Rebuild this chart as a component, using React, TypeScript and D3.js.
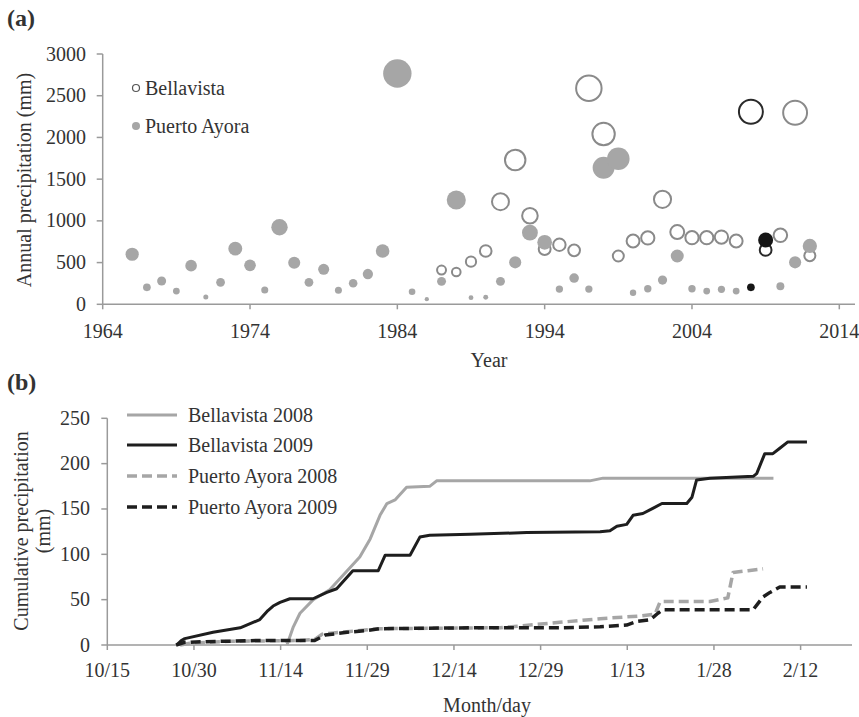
import React from "react";
import * as d3 from "d3";

// ---------- Panel (a) data ----------
const paYears = [1966,1967,1968,1969,1970,1971,1972,1973,1974,1975,1976,1977,1978,1979,1980,1981,1982,1983,1984,1985,1986,1987,1988,1989,1990,1991,1992,1993,1994,1995,1996,1997,1998,1999,2000,2001,2002,2003,2004,2005,2006,2007,2008,2009,2010,2011,2012];
const paValues = [600,204,279,159,463,87,263,667,467,171,923,499,263,419,168,252,363,639,2766,151,62,275,1250,80,84,275,503,858,743,183,315,183,1637,1745,139,187,291,579,187,159,179,159,203,771,216,503,699];
const bvYears = [1987,1988,1989,1990,1991,1992,1993,1994,1995,1996,1997,1998,1999,2000,2001,2002,2003,2004,2005,2006,2007,2008,2009,2010,2011,2012];
const bvValues = [411,387,511,639,1230,1729,1062,663,714,647,2589,2041,579,759,795,1258,866,798,798,806,759,2308,651,827,2296,583];
const highlightYears = [2008, 2009];
const yearTicks = [1964, 1974, 1984, 1994, 2004, 2014];
const annualTicks = [0, 500, 1000, 1500, 2000, 2500, 3000];

// ---------- Panel (b) data (days since 10/15) ----------
const bv2008Days = [31.1,32.2,33.35,35.65,38.5,41.4,43.7,45.5,47.2,48.4,49.8,51.8,55.8,57.0,83.5,85.8,115.3];
const bv2008Vals = [0,20,35,50,61,81,97,117,143,156,160,174,175,181,181,184,184];
const bv2009Days = [12,12.8,13.4,18.3,23,26.4,27.8,28.7,29.9,31.6,35.6,38,39.7,41.1,42.5,46.9,48.1,52.4,54.1,55.8,62.8,72.6,85.3,87,88.2,89.9,91,92.7,94.5,96,100.3,101.2,102,104.3,111.8,112.4,113.8,115.2,116.4,117.8,121.1];
const bv2009Vals = [0,5,7,14,19,28,38,43,47,51,51,58,62,72,82,82,99,99,119,121,122,124,125,126,131,133,143,145,151,156,156,163,182,184,186,189,211,211,217,224,224];
const pa2008Days = [12.6,14.3,21.3,33.3,35.9,37.2,42.0,47.2,68.0,73.2,78.3,85.3,92.2,94.8,95.7,104.3,106.6,107.4,108.3,110.9,113.5];
const pa2008Vals = [0,2,4,5,6,12,15,18,19,22,25,29,32,34,48,48,51,52,80,82,84];
const pa2009Days = [11.9,13.4,19.5,26.4,35.9,37.7,41.5,45.0,47.2,62.8,70.2,78.3,85.3,89.9,91.7,94.0,95.3,96.2,111.8,113.5,114.7,116.4,121.1];
const pa2009Vals = [0,3,4,5,5,11,14,16,18,19,19,19,20,22,26,28,35,39,39,53,58,64,64];
const dayTicks = [0, 15, 30, 45, 60, 75, 90, 105, 120];
const dayLabels = ["10/15", "10/30", "11/14", "11/29", "12/14", "12/29", "1/13", "1/28", "2/12"];
const cumTicks = [0, 50, 100, 150, 200, 250];

const FONT = "'Liberation Serif', 'Times New Roman', serif";
const AXIS = "#9a9a9a";
const TEXT = "#333";
const GRAY = "#a6a6a6";

export default function App() {
  // scales (a)
  const xA = d3.scaleLinear().domain([1964, 2014]).range([102.7, 839.3]);
  const yA = d3.scaleLinear().domain([0, 3000]).range([304.3, 54]);
  const rA = d3.scaleSqrt().domain([0, 2766]).range([0, 14.2]);
  // scales (b)
  const xB = d3.scaleLinear().domain([0, 120]).range([107.3, 800.6]);
  const yB = d3.scaleLinear().domain([0, 250]).range([645, 418.3]);

  const mkLine = (days: number[], vals: number[]) =>
    d3.line<number>().x((_, i) => xB(days[i])).y((v) => yB(v))(vals) || "";

  const bv = bvYears.map((y, i) => ({ y, v: bvValues[i] }));
  const pa = paYears.map((y, i) => ({ y, v: paValues[i] }));

  const series = [
    { name: "Bellavista 2008", d: mkLine(bv2008Days, bv2008Vals), color: GRAY, dash: undefined, w: 3 },
    { name: "Bellavista 2009", d: mkLine(bv2009Days, bv2009Vals), color: "#1e1e1e", dash: undefined, w: 3 },
    { name: "Puerto Ayora 2008", d: mkLine(pa2008Days, pa2008Vals), color: GRAY, dash: "10,5", w: 3.5 },
    { name: "Puerto Ayora 2009", d: mkLine(pa2009Days, pa2009Vals), color: "#1e1e1e", dash: "10,5", w: 3.5 },
  ];

  return (
    <svg width={859} height={717} style={{ position: "absolute", left: 0, top: 0, background: "#fff" }} fontFamily={FONT}>
      {/* ===== Panel (a) ===== */}
      <text x={7} y={26} fontSize={24} fontWeight="bold" fill={TEXT}>(a)</text>
      {/* axes */}
      <line x1={xA(1964)} x2={xA(1964)} y1={yA(0)} y2={yA(3000)} stroke={AXIS} strokeWidth={1.5} />
      <line x1={xA(1964)} x2={855} y1={yA(0)} y2={yA(0)} stroke={AXIS} strokeWidth={1.5} />
      {annualTicks.map((t) => (
        <g key={"ya" + t}>
          <line x1={xA(1964) - 6} x2={xA(1964)} y1={yA(t)} y2={yA(t)} stroke={AXIS} strokeWidth={1.5} />
          <text x={86} y={yA(t) + 6.5} fontSize={20} textAnchor="end" fill={TEXT}>{t}</text>
        </g>
      ))}
      {yearTicks.map((t) => (
        <g key={"xa" + t}>
          <line x1={xA(t)} x2={xA(t)} y1={yA(0)} y2={yA(0) + 5} stroke={AXIS} strokeWidth={1.5} />
          <text x={xA(t)} y={338} fontSize={20} textAnchor="middle" fill={TEXT}>{t}</text>
        </g>
      ))}
      <text transform={`translate(31,180) rotate(-90)`} fontSize={20} textAnchor="middle" fill={TEXT}>Annual precipitation (mm)</text>
      <text x={489} y={367} fontSize={20} textAnchor="middle" fill={TEXT}>Year</text>

      {/* Bellavista bubbles */}
      {bv.map((p) => {
        const hl = highlightYears.includes(p.y);
        return (
          <circle key={"bv" + p.y} cx={xA(p.y)} cy={yA(p.v)} r={Math.max(rA(p.v) - 1, 1)}
            fill="#fff" stroke={hl ? "#2a2a2a" : "#8a8a8a"} strokeWidth={2} />
        );
      })}
      {/* Puerto Ayora bubbles */}
      {pa.map((p) => {
        const hl = highlightYears.includes(p.y);
        return (
          <circle key={"pa" + p.y} cx={xA(p.y)} cy={yA(p.v)} r={rA(p.v)} fill={hl ? "#161616" : GRAY} />
        );
      })}

      {/* legend (a) */}
      <circle cx={136} cy={88} r={3.5} fill="#fff" stroke="#555" strokeWidth={1.2} />
      <text x={145} y={95} fontSize={20} fill={TEXT}>Bellavista</text>
      <circle cx={136} cy={126} r={4} fill={GRAY} />
      <text x={145} y={133} fontSize={20} fill={TEXT}>Puerto Ayora</text>

      {/* ===== Panel (b) ===== */}
      <text x={7} y={390} fontSize={24} fontWeight="bold" fill={TEXT}>(b)</text>
      <line x1={xB(0)} x2={xB(0)} y1={yB(0)} y2={yB(250)} stroke={AXIS} strokeWidth={1.5} />
      <line x1={xB(0)} x2={852} y1={yB(0)} y2={yB(0)} stroke={AXIS} strokeWidth={1.5} />
      {cumTicks.map((t) => (
        <g key={"yb" + t}>
          <line x1={xB(0) - 6} x2={xB(0)} y1={yB(t)} y2={yB(t)} stroke={AXIS} strokeWidth={1.5} />
          <text x={90} y={yB(t) + 6.5} fontSize={20} textAnchor="end" fill={TEXT}>{t}</text>
        </g>
      ))}
      {dayTicks.map((t, i) => (
        <g key={"xb" + t}>
          <line x1={xB(t)} x2={xB(t)} y1={yB(0)} y2={yB(0) + 5} stroke={AXIS} strokeWidth={1.5} />
          <text x={xB(t)} y={677} fontSize={20} textAnchor="middle" fill={TEXT}>{dayLabels[i]}</text>
        </g>
      ))}
      <text transform={`translate(28,531) rotate(-90)`} fontSize={20} textAnchor="middle" fill={TEXT}>Cumulative precipitation</text>
      <text transform={`translate(50,531) rotate(-90)`} fontSize={20} textAnchor="middle" fill={TEXT}>(mm)</text>
      <text x={487} y={712} fontSize={20} textAnchor="middle" fill={TEXT}>Month/day</text>

      {series.map((s) => (
        <path key={s.name} d={s.d} fill="none" stroke={s.color} strokeWidth={s.w}
          strokeDasharray={s.dash} strokeLinejoin="round" />
      ))}

      {/* legend (b) */}
      {series.map((s, i) => {
        const ly = [415, 445, 476, 507][i];
        return (
          <g key={"lg" + s.name}>
            <line x1={127} x2={177} y1={ly} y2={ly} stroke={s.color} strokeWidth={s.w} strokeDasharray={s.dash} />
            <text x={188} y={ly + 7} fontSize={20} fill={TEXT}>{s.name}</text>
          </g>
        );
      })}
    </svg>
  );
}
